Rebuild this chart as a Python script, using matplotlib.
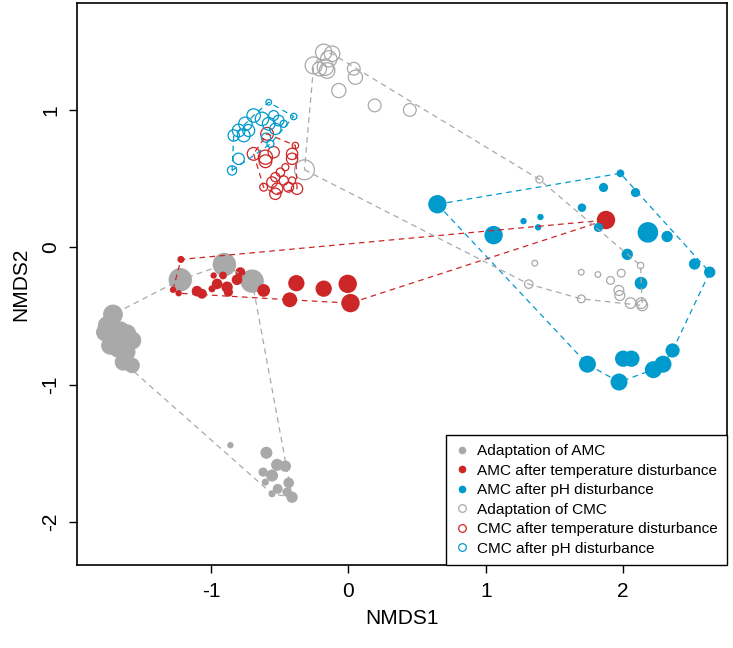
import numpy as np
import matplotlib
matplotlib.use("Agg")
import matplotlib.pyplot as plt
from matplotlib.lines import Line2D

plt.rcParams.update({
    "font.family": ["Liberation Sans", "DejaVu Sans"],
    "font.size": 15,
    "axes.linewidth": 1.2,
    "axes.unicode_minus": False,
})

GRAY = "#A9A9A9"
RED = "#CD2626"
BLUE = "#009ACD"

# --- NMDS scores; w = relative point size ---
amc_ad_x = [-1.714, -1.757, -1.770, -1.660, -1.612, -1.575, -1.733, -1.675, -1.612, -1.639, -1.575, -1.710,
            -1.224, -0.903, -0.701,
            -0.859, -0.597, -0.519, -0.459, -0.621, -0.556, -0.435, -0.605, -0.515, -0.556, -0.447, -0.410]
amc_ad_y = [-0.488, -0.568, -0.617, -0.605, -0.627, -0.677, -0.714, -0.736, -0.762, -0.835, -0.859, -0.680,
            -0.235, -0.124, -0.245,
            -1.440, -1.495, -1.583, -1.593, -1.636, -1.661, -1.714, -1.709, -1.758, -1.794, -1.782, -1.819]
amc_ad_w = [2.8, 2.6, 2.6, 2.6, 2.6, 2.6, 2.6, 2.6, 2.4, 2.4, 2.2, 2.6,
            3.3, 3.3, 3.3,
            0.9, 1.7, 1.7, 1.6, 1.3, 1.7, 1.5, 1.0, 1.4, 1.0, 1.3, 1.6]

amc_t_x = [-1.219, -1.277, -1.236, -1.102, -1.066, -0.981, -0.913, -0.956, -0.993, -0.883, -0.874, -0.811,
           -0.787, -0.617, -0.427, -0.379, -0.180, -0.005, 0.015, 1.875]
amc_t_y = [-0.087, -0.308, -0.333, -0.318, -0.337, -0.204, -0.204, -0.265, -0.301, -0.289, -0.325, -0.235,
           -0.180, -0.313, -0.381, -0.260, -0.300, -0.265, -0.405, 0.200]
amc_t_w = [1.0, 0.9, 0.9, 1.5, 1.4, 0.9, 1.1, 1.5, 1.0, 1.6, 1.3, 1.5,
           1.4, 1.8, 2.1, 2.3, 2.3, 2.6, 2.6, 2.6]

amc_ph_x = [0.648, 1.057, 1.275, 1.398, 1.381, 1.700, 1.857, 1.980, 2.090, 1.820, 2.180, 2.320,
            2.030, 2.130, 2.520, 2.630, 2.360, 2.290, 2.220, 2.000, 2.060, 1.740, 1.970]
amc_ph_y = [0.315, 0.090, 0.192, 0.222, 0.147, 0.290, 0.437, 0.540, 0.400, 0.146, 0.110, 0.080,
            -0.050, -0.260, -0.120, -0.180, -0.750, -0.850, -0.890, -0.810, -0.810, -0.850, -0.980]
amc_ph_w = [2.6, 2.6, 0.9, 0.9, 0.9, 1.2, 1.3, 1.1, 1.3, 1.3, 2.9, 1.6,
            1.6, 1.8, 1.6, 1.6, 2.0, 2.4, 2.4, 2.3, 2.3, 2.4, 2.4]

cmc_ad_x = [-0.180, -0.119, -0.143, -0.253, -0.168, -0.155, -0.211, 0.039, 0.051, -0.070, 0.191, 0.447,
            -0.320, 1.391, 1.357, 1.313, 2.127, 1.695, 1.816, 1.908, 1.986, 1.969, 1.976, 1.695,
            2.054, 2.132, 2.139]
cmc_ad_y = [1.422, 1.411, 1.374, 1.326, 1.313, 1.289, 1.301, 1.302, 1.240, 1.143, 1.035, 1.002,
            0.566, 0.495, -0.114, -0.267, -0.131, -0.180, -0.197, -0.240, -0.187, -0.313, -0.350, -0.374,
            -0.405, -0.405, -0.422]
cmc_ad_w = [2.3, 2.2, 2.3, 2.4, 2.3, 2.2, 2.0, 1.8, 2.0, 2.0, 1.8, 1.8,
            2.8, 1.0, 0.8, 1.2, 0.9, 0.8, 0.8, 1.1, 1.1, 1.4, 1.4, 1.1,
            1.5, 1.5, 1.5]

cmc_t_x = [-0.592, -0.386, -0.690, -0.604, -0.604, -0.544, -0.410, -0.410, -0.617, -0.459, -0.495, -0.532,
           -0.471, -0.556, -0.519, -0.435, -0.374, -0.532, -0.410]
cmc_t_y = [0.828, 0.743, 0.682, 0.658, 0.628, 0.694, 0.682, 0.646, 0.439, 0.585, 0.548, 0.512,
           0.488, 0.476, 0.428, 0.439, 0.428, 0.391, 0.488]
cmc_t_w = [1.8, 0.9, 1.8, 2.0, 1.8, 1.6, 1.6, 1.6, 1.1, 1.0, 1.2, 1.3,
           1.3, 1.5, 1.6, 1.4, 1.6, 1.6, 1.0]

cmc_ph_x = [-0.580, -0.398, -0.690, -0.750, -0.799, -0.835, -0.762, -0.726, -0.629, -0.580, -0.544, -0.508,
            -0.532, -0.471, -0.799, -0.847, -0.568, -0.600]
cmc_ph_y = [1.058, 0.954, 0.961, 0.901, 0.852, 0.816, 0.816, 0.852, 0.937, 0.901, 0.961, 0.925,
            0.864, 0.901, 0.646, 0.561, 0.755, 0.800]
cmc_ph_w = [0.8, 0.9, 1.9, 1.9, 1.8, 1.6, 1.8, 1.7, 1.9, 1.8, 1.4, 1.5,
            1.6, 1.0, 1.6, 1.3, 1.0, 1.3]

labels = ["Adaptation of AMC", "AMC after temperature disturbance", "AMC after pH disturbance",
          "Adaptation of CMC", "CMC after temperature disturbance", "CMC after pH disturbance"]


def hull(xs, ys):
    # monotone chain convex hull, returns closed polygon
    pts = sorted(set(zip(xs, ys)))

    def cross(o, a, b):
        return (a[0] - o[0]) * (b[1] - o[1]) - (a[1] - o[1]) * (b[0] - o[0])
    lower, upper = [], []
    for p in pts:
        while len(lower) >= 2 and cross(lower[-2], lower[-1], p) <= 0:
            lower.pop()
        lower.append(p)
    for p in reversed(pts):
        while len(upper) >= 2 and cross(upper[-2], upper[-1], p) <= 0:
            upper.pop()
        upper.append(p)
    h = lower[:-1] + upper[:-1]
    h.append(h[0])
    return np.array(h)


groups = [
    (amc_ad_x, amc_ad_y, amc_ad_w, GRAY, True),
    (amc_t_x, amc_t_y, amc_t_w, RED, True),
    (amc_ph_x, amc_ph_y, amc_ph_w, BLUE, True),
    (cmc_ad_x, cmc_ad_y, cmc_ad_w, GRAY, False),
    (cmc_t_x, cmc_t_y, cmc_t_w, RED, False),
    (cmc_ph_x, cmc_ph_y, cmc_ph_w, BLUE, False),
]

fig = plt.figure(figsize=(7.33, 6.48), dpi=100)
ax = fig.add_axes([0.105, 0.128, 0.887, 0.867])

for gx, gy, gw, col, filled in groups:
    s = (5.1 * np.asarray(gw)) ** 2
    if filled:
        ax.scatter(gx, gy, s=s, c=col, edgecolors="none", zorder=2)
    else:
        ax.scatter(gx, gy, s=s, facecolors="none", edgecolors=col, linewidths=0.9, zorder=2)
    h = hull(gx, gy)
    ax.plot(h[:, 0], h[:, 1], color=col, lw=0.9, dashes=(4.5, 3.5), zorder=3)

ax.set_xlim(-1.976, 2.757)
ax.set_ylim(-2.313, 1.779)
ax.set_xticks([-1, 0, 1, 2])
ax.set_yticks([-2, -1, 0, 1])
ax.tick_params(direction="out", length=6, width=1, labelsize=15, pad=6)
for lab in ax.get_yticklabels():
    lab.set_rotation(90)
    lab.set_va("center")
ax.set_xlabel("NMDS1", fontsize=15, labelpad=6)
ax.set_ylabel("NMDS2", fontsize=15, labelpad=8)

handles = []
for (gx, gy, gw, col, filled), lab in zip(groups, labels):
    handles.append(Line2D([], [], ls="none", marker="o", markersize=5.5,
                          markerfacecolor=col if filled else "none",
                          markeredgecolor=col, markeredgewidth=0.9 if not filled else 0, label=lab))
leg = ax.legend(handles=handles, loc="lower right", borderaxespad=0, fontsize=11.1,
                fancybox=False, edgecolor="black", framealpha=1, handlelength=0.8,
                handletextpad=0.6, labelspacing=0.36, borderpad=0.6)
leg.get_frame().set_linewidth(1.0)

fig.savefig("out.png", dpi=100)
